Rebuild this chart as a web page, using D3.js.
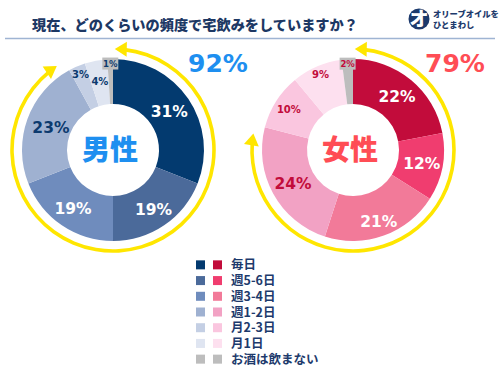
<!DOCTYPE html>
<html><head><meta charset="utf-8">
<script src="https://cdn.jsdelivr.net/npm/d3@7"></script>
<style>
html,body{margin:0;padding:0;background:#fff;}
svg{display:block;}
</style>
</head><body>
<svg id="chart" width="500" height="375"></svg>
<script>
const title = "現在、どのくらいの頻度で宅飲みをしていますか？";
const categories = ["毎日","週5-6日","週3-4日","週1-2日","月2-3日","月1日","お酒は飲まない"];
const maleValues = [31,19,19,23,3,4,1];
const femaleValues = [22,12,21,24,10,9,2];
const maleTotalLabel = "92%";
const femaleTotalLabel = "79%";
const maleColors = ["#033a6f","#4b6a9a","#6f8cbd","#9fb1d1","#c4cfe4","#dfe5f1","#bdbdbd"];
const femaleColors = ["#c20c3b","#f03d6f","#f27a99","#f2a2c4","#fac6df","#fde0ef","#bdbdbd"];

const svg = d3.select("#chart");
const JP = "'Noto Sans CJK JP','Noto Sans',sans-serif";
const NUM = "'DejaVu Sans','Verdana',sans-serif";

// title
svg.append("text").attr("x",32).attr("y",30).text(title)
  .attr("font-family",JP).attr("font-weight",900).attr("font-size",14.2).attr("fill","#1d3864");
svg.append("line").attr("x1",5).attr("x2",495).attr("y1",38.5).attr("y2",38.5)
  .attr("stroke","#9fb4d3").attr("stroke-width",1.3);

// logo
const logo = svg.append("g");
logo.append("circle").attr("cx",419).attr("cy",19).attr("r",10.5).attr("fill","#1d3a6c");
logo.append("text").attr("x",419).attr("y",26).attr("text-anchor","middle").text("オ")
  .attr("font-family",JP).attr("font-weight",900).attr("font-size",19).attr("fill","#fff");
logo.append("text").attr("x",433).attr("y",17).text("オリーブオイルを")
  .attr("font-family",JP).attr("font-weight",900).attr("font-size",8.3).attr("fill","#1d3a6c");
logo.append("text").attr("x",433).attr("y",28).text("ひとまわし")
  .attr("font-family",JP).attr("font-weight",900).attr("font-size",8.3).attr("fill","#1d3a6c");

const outerR = 91, innerR = 46, ringR = 101;
const pie = d3.pie().sort(null).value(d=>d).startAngle(0).endAngle(2*Math.PI);
const arc = d3.arc().innerRadius(innerR).outerRadius(outerR);

function donut(cx, cy, values, colors, centerText, centerColor, labelStyle, totalPct, totalLabel, totalColor, totalX){
  const g = svg.append("g").attr("transform",`translate(${cx},${cy})`);
  const arcs = pie(values);
  g.selectAll("path.s").data(arcs).enter().append("path").attr("class","s")
    .attr("d",arc).attr("fill",(d,i)=>colors[i]);
  arcs.forEach((d,i)=>{
    const st = labelStyle[i];
    const a = (d.startAngle+d.endAngle)/2;
    const x = st.r*Math.sin(a), y = -st.r*Math.cos(a);
    if(st.box){
      g.append("rect").attr("x",x-8).attr("y",y-6.5).attr("width",16).attr("height",12)
        .attr("fill","#bdbdbd");
    }
    g.append("text").attr("x",x).attr("y",y).attr("dy","0.36em").attr("text-anchor","middle")
      .text(values[i]+"%").attr("font-family",NUM).attr("font-weight","bold")
      .attr("font-size",st.fs).attr("fill",st.c);
  });
  g.append("text").attr("x",-3).attr("y",0).attr("dy","0.36em").attr("text-anchor","middle")
    .text(centerText).attr("font-family",JP).attr("font-weight",900).attr("font-size",28)
    .attr("fill",centerColor);
  // yellow ring with arrowheads
  const tipA = 1*Math.PI/180;
  const endTip = (totalPct/100*360 - 5)*Math.PI/180;
  const headLen = 12, headW = 7.5;
  const dA = headLen/ringR;
  const ringArc = d3.arc().innerRadius(ringR-1.8).outerRadius(ringR+1.8)
    .startAngle(tipA+dA*0.8).endAngle(endTip-dA*0.8);
  g.append("path").attr("d",ringArc()).attr("fill","#ffe600");
  function head(tip, dir){
    const px = ringR*Math.sin(tip), py = -ringR*Math.cos(tip);
    let tx = Math.cos(tip)*dir, ty = Math.sin(tip)*dir;
    const nx = Math.sin(tip), ny = -Math.cos(tip);
    const bx = px - tx*headLen, by = py - ty*headLen;
    g.append("path").attr("d",`M${px},${py}L${bx+nx*headW},${by+ny*headW}L${bx-nx*headW},${by-ny*headW}Z`)
      .attr("fill","#ffe600");
  }
  head(tipA,-1);
  head(endTip,1);
  svg.append("text").attr("x",totalX).attr("y",72).attr("text-anchor","middle").text(totalLabel)
    .attr("font-family",NUM).attr("font-weight","bold").attr("font-size",25).attr("fill",totalColor);
}

const maleLabelStyle = [
  {r:68,fs:15.5,c:"#fff"},{r:72,fs:15.5,c:"#fff"},{r:71,fs:15.5,c:"#fff"},{r:66,fs:15.5,c:"#0c3a6e"},
  {r:82,fs:10,c:"#0c3a6e"},{r:70,fs:10,c:"#0c3a6e"},{r:86,fs:8.5,c:"#0c3a6e",box:true}
];
const femaleLabelStyle = [
  {r:69,fs:15.5,c:"#fff"},{r:70,fs:15.5,c:"#fff"},{r:76,fs:15.5,c:"#fff"},{r:68.5,fs:15.5,c:"#c20c3b"},
  {r:76,fs:10,c:"#c20c3b"},{r:82,fs:10,c:"#c20c3b"},{r:86,fs:8.5,c:"#c20c3b",box:true}
];

donut(113,150,maleValues,maleColors,"男性","#1e8ff0",maleLabelStyle,92,maleTotalLabel,"#1e8ff0",218);
donut(353,150,femaleValues,femaleColors,"女性","#ff4d55",femaleLabelStyle,79,femaleTotalLabel,"#ff4d55",455);

// legend
const legY = d3.scaleBand().domain(categories).range([257,367]);
const lg = svg.append("g");
categories.forEach((c,i)=>{
  const y = legY(c)+legY.bandwidth()/2;
  lg.append("rect").attr("x",196).attr("y",y-4.5).attr("width",9).attr("height",9).attr("fill",maleColors[i]);
  lg.append("rect").attr("x",213).attr("y",y-4.5).attr("width",9).attr("height",9).attr("fill",femaleColors[i]);
  lg.append("text").attr("x",231).attr("y",y).attr("dy","0.36em").text(c)
    .attr("font-family",JP).attr("font-weight",700).attr("font-size",12.5).attr("fill","#1d3a6c");
});
</script>
</body></html>
